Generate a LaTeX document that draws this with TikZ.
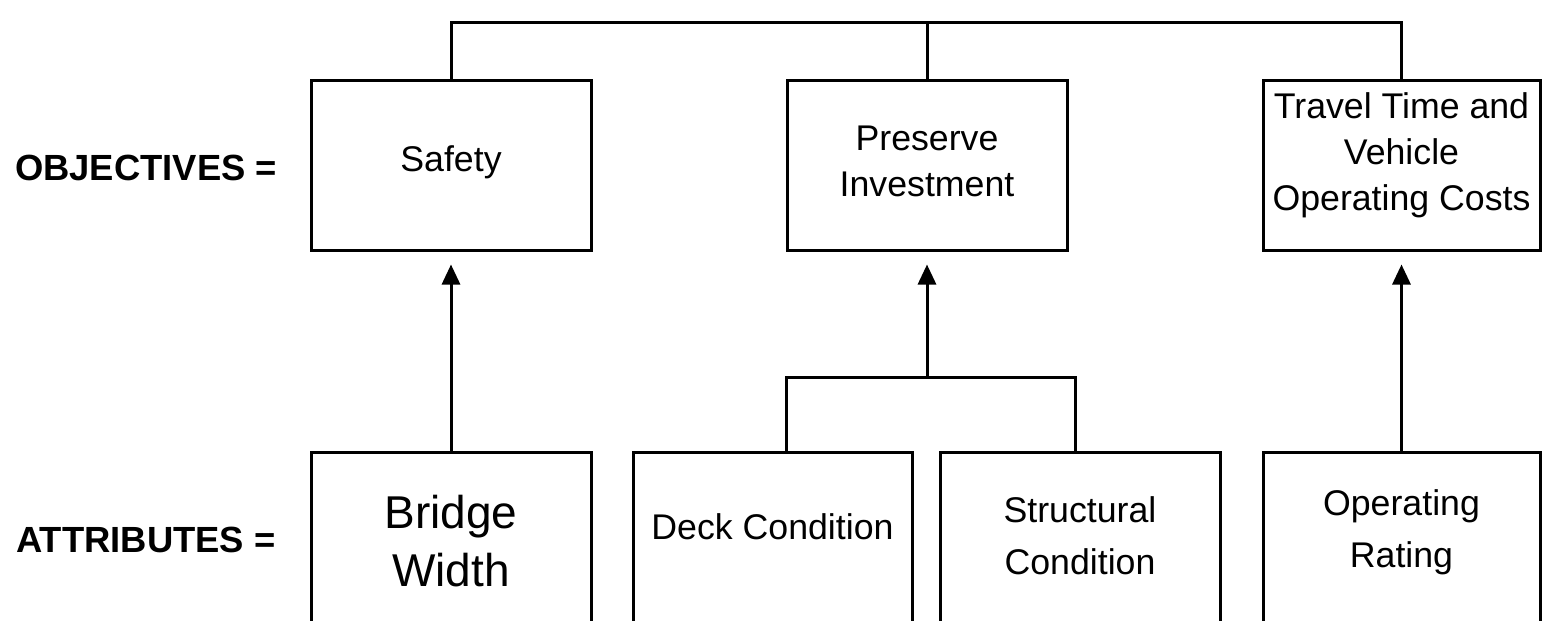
\documentclass[tikz,border=0pt]{standalone}
\usepackage{fontspec}
\setmainfont{Liberation Sans}
\usetikzlibrary{arrows.meta}
\begin{document}
\begin{tikzpicture}[x=0.5pt,y=-0.5pt,
  box/.style={draw, line width=1.5pt, inner sep=0pt, minimum width=140pt},
  topbox/.style={box, minimum height=85pt},
  botbox/.style={box, minimum height=94pt},
  conn/.style={line width=1.5pt},
  arr/.style={line width=1.5pt, -{Triangle[length=10pt,width=9pt]}},
  txt/.style={align=center, inner sep=0pt, font=\fontsize{17.85pt}{23pt}\selectfont},
  txtb/.style={align=center, inner sep=0pt, font=\fontsize{17.85pt}{26pt}\selectfont},
  txtbig/.style={align=center, inner sep=0pt, font=\fontsize{23pt}{29pt}\selectfont},
  rowlabel/.style={inner sep=0pt, font=\fontsize{18.2pt}{22pt}\selectfont\bfseries}]
\useasboundingbox (0,0) rectangle (1544,621);
% row labels
\node[rowlabel] (objl) at (146,168) {OBJECTIVES =};
\node[rowlabel] (attl) at (146,540) {ATTRIBUTES =};
% objective boxes
\node[topbox] (safety) at (451,165) {};
\node[topbox] (preserve) at (927,165) {};
\node[topbox, minimum width=138.5pt] (travel) at (1401.5,165) {};
\node[txt] (tsafety) at (451,162) {Safety};
\node[txt] (tpreserve) at (927,161) {Preserve\\Investment};
\node[txt] (ttravel) at (1401.5,155) {Travel Time and\\Vehicle\\Operating Costs};
% attribute boxes
\node[botbox] (bridge) at (451,546) {};
\node[botbox, minimum width=139.5pt] (deck) at (772.5,546) {};
\node[botbox] (struct) at (1080,546) {};
\node[botbox, minimum width=138.5pt] (oper) at (1401.5,546) {};
\node[txtbig] (tbridge) at (451,541) {Bridge\\Width};
\node[txt] (tdeck) at (772.5,527) {Deck Condition};
\node[txtb] (tstruct) at (1080,535.5) {Structural\\Condition};
\node[txtb] (toper) at (1401.5,532) {Operating\\Rating};
% top bar
\coordinate (topbar) at (0,22);
\draw[conn] (safety.north) -- (safety.north |- topbar) -- (travel.north |- topbar) -- (travel.north);
\draw[conn] (preserve.north) -- (preserve.north |- topbar);
% branch under preserve investment
\coordinate (branch) at (927,377);
\draw[conn] ([xshift=6.75pt]deck.north) |- (branch) -| ([xshift=-2.5pt]struct.north);
% arrows
\draw[arr] (bridge.north) -- ([yshift=-6.5pt]safety.south);
\draw[arr] (branch) -- ([yshift=-6.5pt]preserve.south);
\draw[arr] (oper.north) -- ([yshift=-6.5pt]travel.south);
\end{tikzpicture}
\end{document}
